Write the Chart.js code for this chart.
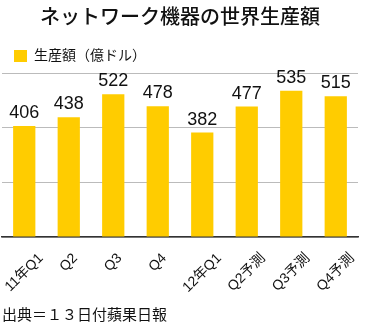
<!DOCTYPE html>
<html>
<head>
<meta charset="utf-8">
<script src="https://cdn.jsdelivr.net/npm/chart.js@4"></script>
<style>
  body { margin: 0; background: #fff; }
  #wrap { width: 366px; height: 331px; }
</style>
</head>
<body>
<div id="wrap"><canvas id="prodChart"></canvas></div>
<script>
const categories = ['11年Q1', 'Q2', 'Q3', 'Q4', '12年Q1', 'Q2予測', 'Q3予測', 'Q4予測'];
const productionValues = [406, 438, 522, 478, 382, 477, 535, 515];
const yTicks = [0, 200, 400, 600];

const jpFont = '"Liberation Sans", "Noto Sans CJK JP", sans-serif';

// Valeurs au-dessus des barres
const valueLabels = {
    id: 'valueLabels',
    afterDatasetsDraw(chart) {
        const ctx = chart.ctx;
        const meta = chart.getDatasetMeta(0);
        ctx.save();
        ctx.font = '18px ' + jpFont;
        ctx.fillStyle = '#111';
        ctx.textAlign = 'center';
        ctx.textBaseline = 'bottom';
        meta.data.forEach((bar, i) => {
            ctx.fillText(String(productionValues[i]), bar.x, bar.y - 4);
        });
        ctx.restore();
    }
};

// Etiquettes de l'axe X, tournées autour de leur centre
const rotatedTicks = {
    id: 'rotatedTicks',
    afterDraw(chart) {
        const ctx = chart.ctx;
        const xs = chart.scales.x;
        ctx.save();
        ctx.font = '14px ' + jpFont;
        ctx.fillStyle = '#111';
        ctx.textAlign = 'center';
        ctx.textBaseline = 'middle';
        categories.forEach((lab, i) => {
            const w = ctx.measureText(lab).width;
            const x = xs.getPixelForTick(i);
            const y = xs.top + 14 + (w + 14) * 0.3536;
            ctx.save();
            ctx.translate(x, y);
            ctx.rotate(-Math.PI / 4);
            ctx.fillText(lab, 0, 0);
            ctx.restore();
        });
        ctx.restore();
    }
};

new Chart(document.getElementById('prodChart'), {
    type: 'bar',
    data: {
        labels: categories,
        datasets: [{
            label: '生産額（億ドル）',
            data: productionValues,
            backgroundColor: '#FFCC00',
            borderWidth: 0,
            barPercentage: 0.5,
            categoryPercentage: 1.0
        }]
    },
    options: {
        responsive: true,
        maintainAspectRatio: false,
        animation: false,
        layout: { padding: { left: 2, right: 8, top: 0, bottom: 0 } },
        plugins: {
            title: {
                display: true,
                text: 'ネットワーク機器の世界生産額',
                color: '#111',
                font: { family: jpFont, size: 20, weight: 500 },
                padding: { top: 6, bottom: 7 }
            },
            legend: {
                display: true,
                align: 'start',
                labels: {
                    color: '#111',
                    boxWidth: 13,
                    boxHeight: 12,
                    padding: 12,
                    font: { family: jpFont, size: 14 }
                }
            },
            subtitle: {
                display: true,
                position: 'bottom',
                align: 'start',
                text: '出典＝１３日付蘋果日報',
                color: '#111',
                font: { family: jpFont, size: 15, weight: 'normal' },
                padding: { top: 2, bottom: 6 }
            },
            tooltip: { enabled: false }
        },
        scales: {
            x: {
                grid: { display: false },
                border: { display: true, color: '#333', width: 1.5 },
                ticks: { display: false },
                afterFit(scale) { scale.height = 68; }
            },
            y: {
                min: yTicks[0],
                max: yTicks[yTicks.length - 1],
                afterBuildTicks(scale) { scale.ticks = yTicks.map(v => ({ value: v })); },
                ticks: { display: false },
                border: { display: false },
                grid: { color: '#bbbbbb', drawTicks: false }
            }
        }
    },
    plugins: [valueLabels, rotatedTicks]
});
</script>
</body>
</html>
